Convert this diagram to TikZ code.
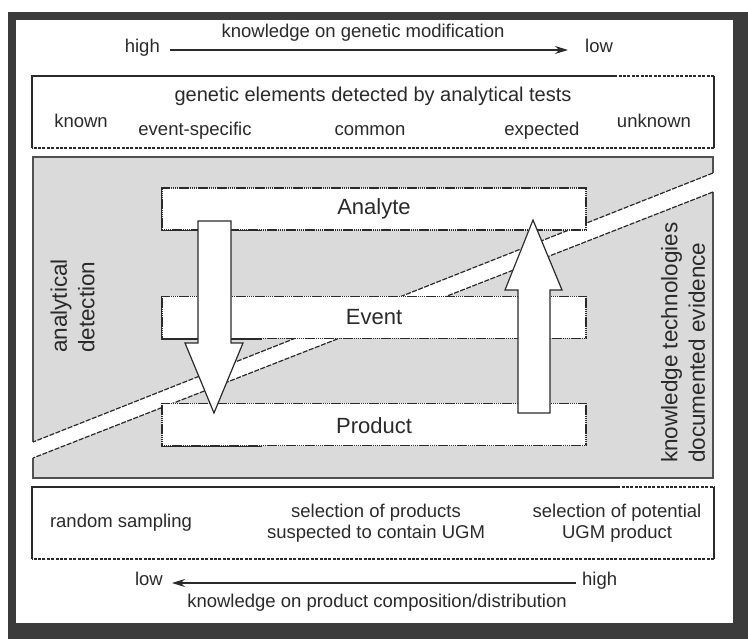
\documentclass[tikz,border=0pt]{standalone}
\usepackage{fontspec}
\setmainfont{Liberation Sans}
\usetikzlibrary{arrows.meta}
\definecolor{frame}{HTML}{3B3B3B}
\definecolor{ink}{HTML}{2A2A2A}
\definecolor{panel}{HTML}{D9DAD9}
\definecolor{edge}{HTML}{505050}
\tikzset{
  lbl/.style={font=\fontsize{18.5}{21}\selectfont, text=ink, inner sep=0pt},
  head/.style={font=\fontsize{20}{23}\selectfont, text=ink, inner sep=0pt},
  vlbl/.style={font=\fontsize{22.5}{27.5}\selectfont, text=ink, inner sep=0pt, rotate=90, anchor=west, align=left},
  boxlbl/.style={font=\fontsize{22}{25}\selectfont, text=ink, inner sep=0pt},
  outerbox/.style={fill=white, draw=none, minimum width=682pt, minimum height=72pt, inner sep=0pt},
  innerbox/.style={fill=white, draw=ink, line width=1.5pt, dash pattern=on 1.4pt off 0.5pt, minimum width=424pt, minimum height=42pt, inner sep=0pt},
  solidline/.style={draw=ink, line width=1.6pt},
  dashline/.style={draw=ink, line width=1.6pt, dash pattern=on 3pt off 1.4pt},
  solidthin/.style={draw=ink, line width=1.5pt, solid},
  bandline/.style={draw=ink, line width=1.2pt, dash pattern=on 5pt off 1.5pt},
  paneledge/.style={draw=edge, line width=1.3pt},
  bigarrow/.style={fill=white, draw=ink, line width=1.2pt},
  conn/.style={draw=ink, line width=1.3pt, -{Stealth[length=13pt,width=8pt]}}
}
\begin{document}
\begin{tikzpicture}[x=1pt,y=-1pt]
\useasboundingbox (0,0) rectangle (748,639);
\fill[frame] (8,12) rectangle (748,639);
\fill[white] (16,20) rectangle (733,623);

% top axis
\node[lbl] (topcap) at (363,33) {knowledge on genetic modification};
\node[lbl, anchor=mid east] (hi1) at (160,50) {high};
\node[lbl, anchor=mid west] (lo1) at (585,50) {low};
\draw[conn] ([xshift=10pt]hi1.mid east) -- ([xshift=-17pt]lo1.mid west);

% top box
\node[outerbox] (tb) at (373,112) {};
\draw[solidline] (tb.south west) -- (tb.north west) -- ([xshift=-100pt]tb.north east);
\draw[dashline] ([xshift=-100pt]tb.north east) -- (tb.north east);
\draw[solidline] (tb.north east) -- (tb.south east);
\draw[dashline] (tb.south east) -- (tb.south west);
\node[head] (tbh) at (373,96) {genetic elements detected by analytical tests};
\node[lbl] (kn) at (81,121) {known};
\node[lbl] (es) at (195,131) {event-specific};
\node[lbl] (cm) at (370,131) {common};
\node[lbl] (ex) at (542,131) {expected};
\node[lbl] (uk) at (654,121) {unknown};

% gray panel split by white band
\fill[panel] (33,157) -- (713,157) -- (713,173) -- (33,442) -- cycle;
\fill[panel] (33,458) -- (713,192) -- (713,478) -- (33,478) -- cycle;
\draw[paneledge] (33,442) -- (33,157) -- (713,157) -- (713,173);
\draw[paneledge] (713,192) -- (713,478) -- (33,478) -- (33,458);
\draw[bandline] (713,173) -- (33,442);
\draw[bandline] (713,192) -- (33,458);

% inner boxes
\node[innerbox] (an) at (374,209) {};
\node[innerbox] (ev) at (374,317.5) {};
\node[innerbox] (pr) at (374,424.5) {};
\draw[solidthin] (an.north west) -- (an.south west) -- ([xshift=101pt]an.south west);
\draw[solidthin] (ev.north west) -- (ev.south west) -- ([xshift=101pt]ev.south west);
\draw[solidthin] (pr.south west) -- ([xshift=101pt]pr.south west);

% big arrows
\draw[bigarrow] (198,221) -- (231,221) -- (231,343) -- (243,343) -- (214,413) -- (185,343) -- (198,343) -- cycle;
\draw[bigarrow] (518,413) -- (550,413) -- (550,290) -- (562,290) -- (533,220) -- (505,290) -- (518,290) -- cycle;

\node[boxlbl] (anl) at (an) {Analyte};
\node[boxlbl] (evl) at (ev) {Event};
\node[boxlbl] (prl) at (374,426) {Product};

% side labels
\node[vlbl] (ad) at (72.5,353) {analytical\\detection};
\node[vlbl] (kt) at (683,463) {knowledge technologies\\documented evidence};

% bottom box
\node[outerbox] (bb) at (373,523) {};
\draw[solidline] (bb.south west) -- (bb.north west) -- ([xshift=-97pt]bb.north east);
\draw[dashline] ([xshift=-97pt]bb.north east) -- (bb.north east);
\draw[solidline] (bb.north east) -- (bb.south east);
\draw[dashline] (bb.south east) -- (bb.south west);
\node[lbl] (rs) at (121,523) {random sampling};
\node[lbl, align=center] (sp) at (376,523) {selection of products\\suspected to contain UGM};
\node[lbl, align=center] (su) at (617,523) {selection of potential\\UGM product};

% bottom axis
\node[lbl, anchor=mid east] (lo2) at (163,583) {low};
\node[lbl, anchor=mid west] (hi2) at (582,583) {high};
\draw[conn] ([xshift=-6pt]hi2.mid west) -- ([xshift=9pt]lo2.mid east);
\node[lbl] (botcap) at (377,603) {knowledge on product composition/distribution};
\end{tikzpicture}
\end{document}
